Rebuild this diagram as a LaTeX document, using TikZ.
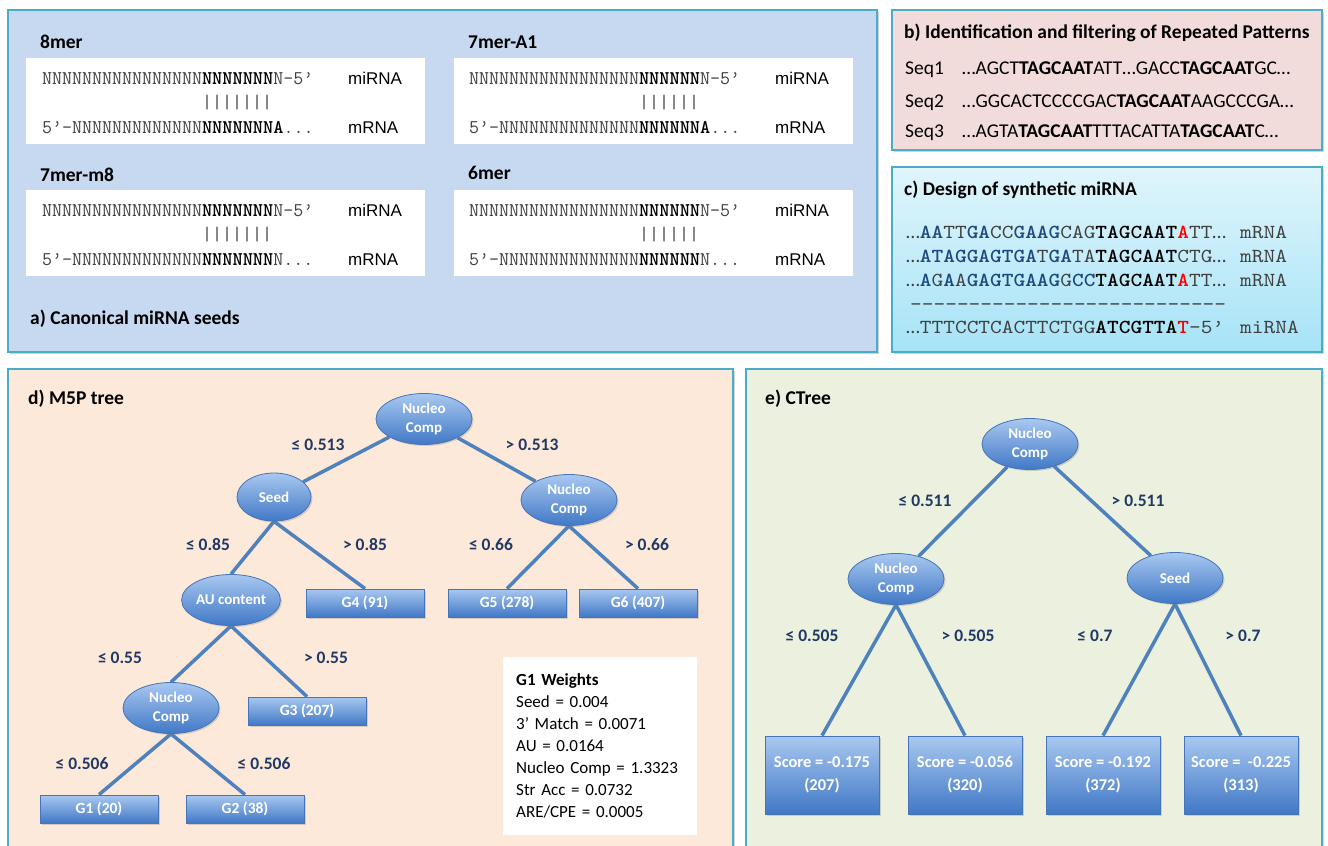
\documentclass[tikz,border=0pt]{standalone}
\usepackage{fontspec}
\setmainfont{Carlito}
\newfontfamily\arialfont{Liberation Sans}
\newfontfamily\widemono[FakeStretch=1.12, BoldFont=lmmonolt10-bold.otf]{lmmono10-regular.otf}
\usetikzlibrary{shapes.geometric,shadows,backgrounds}

\definecolor{panelline}{HTML}{4BACC6}
\definecolor{panelA}{HTML}{C6D9F0}
\definecolor{panelB}{HTML}{F2DCDB}
\definecolor{panelCtop}{HTML}{E0F5FC}
\definecolor{panelCbot}{HTML}{A6E3F7}
\definecolor{panelD}{HTML}{FDE9D9}
\definecolor{panelE}{HTML}{EBF1DE}
\definecolor{branchblue}{HTML}{4F81BD}
\definecolor{nodetop}{HTML}{A8C8F0}
\definecolor{nodebot}{HTML}{4178C6}
\definecolor{nodeline}{HTML}{4674B8}
\definecolor{labnavy}{HTML}{1F3864}
\definecolor{seqblue}{HTML}{1F497D}
\definecolor{seqgray}{HTML}{404040}

\newcommand{\setfs}[2]{\fontsize{#1}{#2}\selectfont}
\newcommand{\sqbold}[1]{\textbf{\textcolor{black}{#1}}}
\newcommand{\sqblue}[1]{\textbf{\textcolor{seqblue}{#1}}}
\newcommand{\sqred}[1]{\textbf{\textcolor{red}{#1}}}

\tikzset{
  panel/.style={draw=panelline, line width=1.5pt,
    drop shadow={shadow xshift=2pt, shadow yshift=-2pt, opacity=0.35}},
  title/.style={anchor=base west, inner sep=0pt, font=\bfseries\setfs{19.5}{22}},
  plain/.style={anchor=base west, inner sep=0pt, font=\setfs{19.5}{22}},
  mono/.style={anchor=base west, inner sep=0pt, text=seqgray, font=\ttfamily\setfs{19.4}{22}},
  cmono/.style={anchor=base west, inner sep=0pt, text=seqgray, font=\widemono\setfs{19.9}{22}},
  rnalab/.style={anchor=base west, inner sep=0pt, font=\arialfont\setfs{17}{20}},
  split/.style={ellipse, draw=nodeline, line width=0.8pt, top color=nodetop, bottom color=nodebot,
    text=white, align=center, font=\bfseries\setfs{15}{19}, inner sep=0pt,
    minimum width=96pt, minimum height=51pt,
    drop shadow={shadow xshift=1.5pt, shadow yshift=-1.5pt, opacity=0.3}},
  leaf/.style={rectangle, draw=nodeline, line width=0.8pt, top color=nodetop, bottom color=nodebot,
    text=white, align=center, font=\bfseries\setfs{15.5}{23}, inner sep=0pt,
    minimum width=118pt, minimum height=28pt,
    drop shadow={shadow xshift=1.5pt, shadow yshift=-1.5pt, opacity=0.3}},
  score/.style={leaf, font=\bfseries\setfs{16.5}{23}, minimum width=114pt, minimum height=78pt},
  branch/.style={branchblue, line width=3.5pt},
  cond/.style={text=labnavy, font=\bfseries\setfs{17.5}{20}},
}

\begin{document}
\begin{tikzpicture}[x=1pt, y=-1pt]
  \useasboundingbox (0,0) rectangle (1328,846);

  % Paneles
  \begin{scope}[on background layer]
    \draw[panel, fill=panelA] (8,10) rectangle (877,352);
    \draw[panel, fill=panelB] (892,10) rectangle (1322,150);
    \draw[panel, top color=panelCtop, bottom color=panelCbot] (892,167) rectangle (1322,352);
    \draw[panel, fill=panelD] (8,369) rectangle (733,870);
    \draw[panel, fill=panelE] (746,369) rectangle (1322,870);
    \foreach \x/\y in {26/58, 454/58, 26/190, 454/190}
      \fill[white] (\x,\y) rectangle ++(399,86);
  \end{scope}

  % a) Semillas canonicas
  \node[title] (t8) at (40,48) {8mer};
  \node[title] (tA1) at (468,48) {7mer-A1};
  \node[title] (tm8) at (40,181) {7mer-m8};
  \node[title] (t6) at (468,179) {6mer};
  \node[title] (ta) at (30,324) {a) Canonical miRNA seeds};

  \node[mono] (s8mi) at (42,84) {NNNNNNNNNNNNNNNN\sqbold{NNNNNNN}N-5’};
  \node[mono] (s8bar) at (42,108) {\phantom{NNNNNNNNNNNNNNNN}|||||||};
  \node[mono] (s8m) at (42,133) {5’-NNNNNNNNNNNNN\sqbold{NNNNNNNA}...};

  \node[mono] (sA1mi) at (469,84) {NNNNNNNNNNNNNNNNN\sqbold{NNNNNN}N-5’};
  \node[mono] (sA1bar) at (469,108) {\phantom{NNNNNNNNNNNNNNNNN}||||||};
  \node[mono] (sA1m) at (469,133) {5’-NNNNNNNNNNNNNN\sqbold{NNNNNNA}...};

  \node[mono] (sm8mi) at (42,216) {NNNNNNNNNNNNNNNN\sqbold{NNNNNNN}N-5’};
  \node[mono] (sm8bar) at (42,240) {\phantom{NNNNNNNNNNNNNNNN}|||||||};
  \node[mono] (sm8m) at (42,265) {5’-NNNNNNNNNNNNN\sqbold{NNNNNNN}N...};

  \node[mono] (s6mi) at (469,216) {NNNNNNNNNNNNNNNNN\sqbold{NNNNNN}N-5’};
  \node[mono] (s6bar) at (469,240) {\phantom{NNNNNNNNNNNNNNNNN}||||||};
  \node[mono] (s6m) at (469,265) {5’-NNNNNNNNNNNNNN\sqbold{NNNNNN}N...};

  \foreach \x/\y/\n in {348/84/a, 775/84/b, 348/216/c, 775/216/d}
    \node[rnalab] (mi\n) at (\x,\y) {miRNA};
  \foreach \x/\y/\n in {348/133/a, 775/133/b, 348/265/c, 775/265/d}
    \node[rnalab] (m\n) at (\x,\y) {mRNA};

  % b) Patrones repetidos
  \node[title] (tb) at (904,38) {b) Identification and filtering of Repeated Patterns};
  \foreach \n/\y in {1/74, 2/107, 3/137}
    \node[plain] (seq\n) at (905,\y) {Seq\n};
  \node[plain] (r1) at (962,74) {…AGCT\textbf{TAGCAAT}ATT…GACC\textbf{TAGCAAT}GC…};
  \node[plain] (r2) at (962,107) {…GGCACTCCCCGAC\textbf{TAGCAAT}AAGCCCGA…};
  \node[plain] (r3) at (962,137) {…AGTA\textbf{TAGCAAT}TTTACATTA\textbf{TAGCAAT}C…};

  % c) miRNA sintetico
  \node[title] (tc) at (904,195) {c) Design of synthetic miRNA};
  \node[cmono] (c1) at (906,238) {{\rmfamily…}\sqblue{AA}TT\sqblue{GA}CC\sqblue{GAAG}CAG\sqbold{TAGCAAT}\sqred{A}TT{\rmfamily…}};
  \node[cmono] (c2) at (906,262) {{\rmfamily…}\sqblue{ATAGGAGTGA}T\sqblue{GA}TA\sqbold{TAGCAAT}CTG{\rmfamily…}};
  \node[cmono] (c3) at (906,286) {{\rmfamily…}\sqblue{A}G\sqblue{A}A\sqblue{GAGTGAAG}G\sqblue{CC}\sqbold{TAGCAAT}\sqred{A}TT{\rmfamily…}};
  \node[cmono] (cdash) at (910,310) {\foreach \k in {1,...,27}{-}};
  \node[cmono] (c4) at (906,333) {{\rmfamily…}TTTCCTCACTTCTGG\sqbold{ATCGTTA}\sqred{T}-5’};
  \foreach \y/\n in {238/1, 262/2, 286/3}
    \node[cmono] (cm\n) at (1240,\y) {mRNA};
  \node[cmono] (cmi) at (1240,333) {miRNA};

  % d) Arbol M5P
  \node[title] (td) at (28,404) {d) M5P tree};
  \node[split] (dRoot) at (424,419) {Nucleo\\Comp};
  \node[split, minimum width=74pt, minimum height=48pt] (dSeed) at (274,497) {Seed};
  \node[split] (dNC) at (569,500) {Nucleo\\Comp};
  \node[split, minimum width=92pt] (dAU) at (231,600) {AU content};
  \node[split] (dNClow) at (171,708) {Nucleo\\Comp};
  \node[leaf] (dG4) at (365,603) {G4 (91)};
  \node[leaf] (dG5) at (507,603) {G5 (278)};
  \node[leaf] (dG6) at (638,603) {G6 (407)};
  \node[leaf] (dG3) at (307,711) {G3 (207)};
  \node[leaf] (dG1) at (99,809) {G1 (20)};
  \node[leaf] (dG2) at (245,809) {G2 (38)};

  \begin{scope}[on background layer]
    \draw[branch] (dRoot) -- (dSeed);
    \draw[branch] (dRoot) -- (dNC);
    \draw[branch] (dSeed.south) -- (dAU.north);
    \draw[branch] (dSeed.south) -- (dG4.north);
    \draw[branch] (dNC.south) -- (dG5.north);
    \draw[branch] (dNC.south) -- (dG6.north);
    \draw[branch] (dAU.south) -- (dNClow.north);
    \draw[branch] (dAU.south) -- (dG3.north);
    \draw[branch] (dNClow.south) -- (dG1.north);
    \draw[branch] (dNClow.south) -- (dG2.north);
  \end{scope}

  \node[cond] (dl1) at (318,445) {≤ 0.513};
  \node[cond] (dr1) at (532,445) {> 0.513};
  \node[cond] (dl2) at (208,545) {≤ 0.85};
  \node[cond] (dr2) at (365,545) {> 0.85};
  \node[cond] (dl3) at (491,545) {≤ 0.66};
  \node[cond] (dr3) at (647,545) {> 0.66};
  \node[cond] (dl4) at (120,658) {≤ 0.55};
  \node[cond] (dr4) at (326,658) {> 0.55};
  \node[cond] (dl5) at (82,764) {≤ 0.506};
  \node[cond] (dr5) at (264,764) {≤ 0.506};

  \node[fill=white, anchor=north west, align=left, text width=168pt, inner xsep=13pt, inner ysep=9pt,
        minimum height=178pt, font=\setfs{17}{22}] (weights) at (503,657)
    {\textbf{G1 Weights}\\Seed = 0.004\\3’ Match = 0.0071\\AU = 0.0164\\Nucleo Comp = 1.3323\\Str Acc = 0.0732\\ARE/CPE = 0.0005};

  % e) CTree
  \node[title] (te) at (765,404) {e) CTree};
  \node[split] (eRoot) at (1030,444) {Nucleo\\Comp};
  \node[split] (eNC) at (896,579) {Nucleo\\Comp};
  \node[split] (eSeed) at (1175,578) {Seed};
  \node[score] (eS1) at (822,775) {Score = -0.175\\(207)};
  \node[score] (eS2) at (965,775) {Score = -0.056\\(320)};
  \node[score] (eS3) at (1103,775) {Score = -0.192\\(372)};
  \node[score] (eS4) at (1241,775) {Score = \ -0.225\\(313)};

  \begin{scope}[on background layer]
    \draw[branch] (eRoot) -- (eNC);
    \draw[branch] (eRoot) -- (eSeed);
    \draw[branch] (eNC.south) -- (eS1.north);
    \draw[branch] (eNC.south) -- (eS2.north);
    \draw[branch] (eSeed.south) -- (eS3.north);
    \draw[branch] (eSeed.south) -- (eS4.north);
  \end{scope}

  \node[cond] (el1) at (925,501) {≤ 0.511};
  \node[cond] (er1) at (1138,501) {> 0.511};
  \node[cond] (el2) at (812,636) {≤ 0.505};
  \node[cond] (er2) at (968,636) {> 0.505};
  \node[cond] (el3) at (1095,636) {≤ 0.7};
  \node[cond] (er3) at (1243,636) {> 0.7};
\end{tikzpicture}
\end{document}
